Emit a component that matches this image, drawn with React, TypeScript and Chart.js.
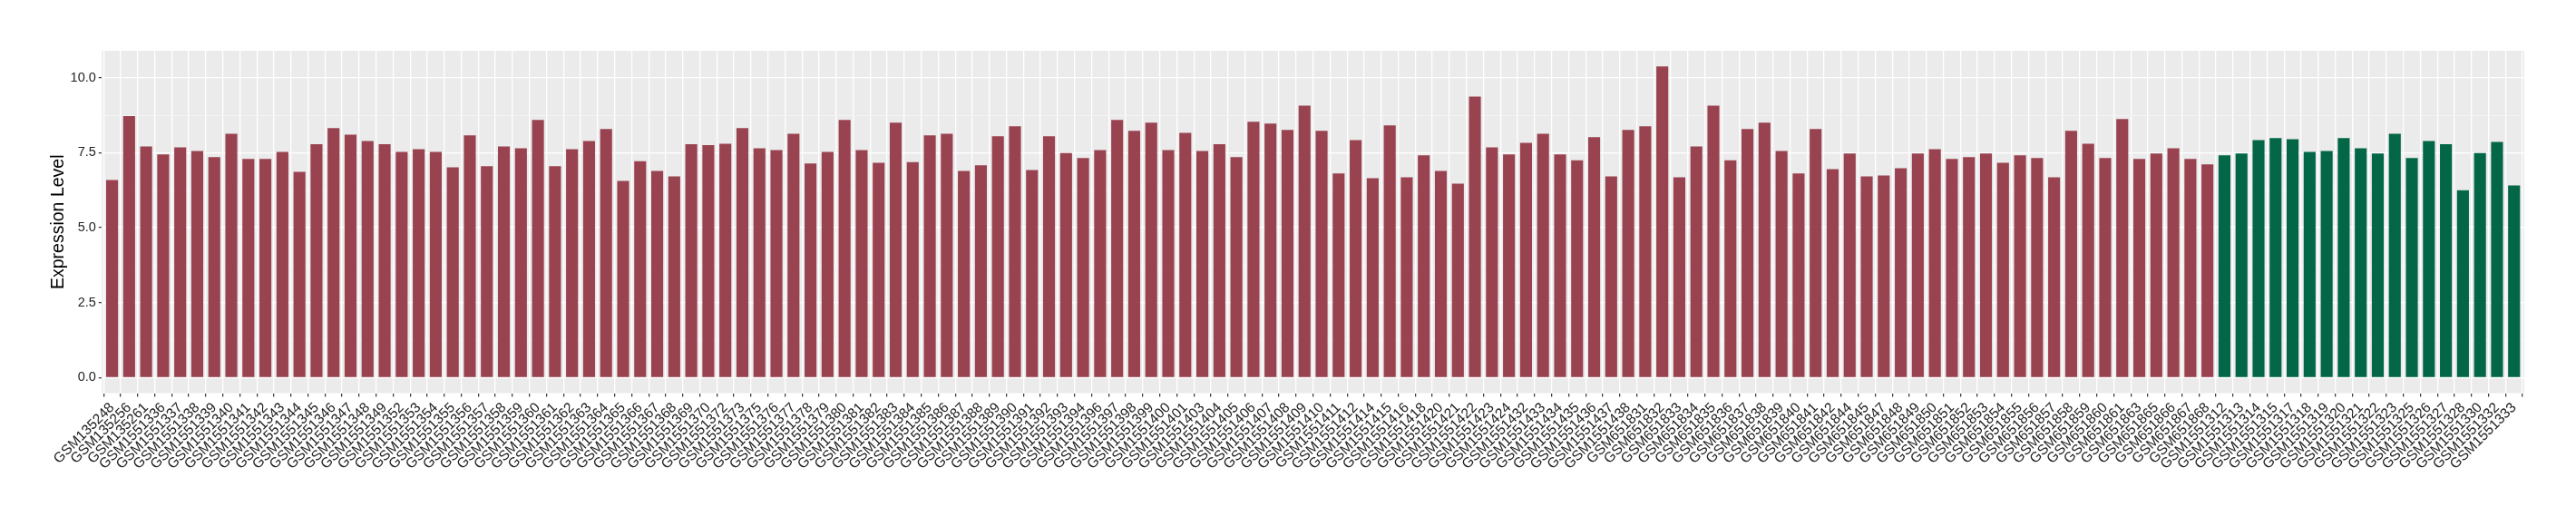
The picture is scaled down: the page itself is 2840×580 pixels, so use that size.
import React, { useEffect, useRef } from "react";
import { Chart, registerables } from "chart.js";

Chart.register(...registerables);

const SAMPLES: string[] = [
  "GSM135248", "GSM135256", "GSM135261", "GSM1551336", "GSM1551337", "GSM1551338", "GSM1551339", "GSM1551340",
  "GSM1551341", "GSM1551342", "GSM1551343", "GSM1551344", "GSM1551345", "GSM1551346", "GSM1551347", "GSM1551348",
  "GSM1551349", "GSM1551352", "GSM1551353", "GSM1551354", "GSM1551355", "GSM1551356", "GSM1551357", "GSM1551358",
  "GSM1551359", "GSM1551360", "GSM1551361", "GSM1551362", "GSM1551363", "GSM1551364", "GSM1551365", "GSM1551366",
  "GSM1551367", "GSM1551368", "GSM1551369", "GSM1551370", "GSM1551372", "GSM1551373", "GSM1551375", "GSM1551376",
  "GSM1551377", "GSM1551378", "GSM1551379", "GSM1551380", "GSM1551381", "GSM1551382", "GSM1551383", "GSM1551384",
  "GSM1551385", "GSM1551386", "GSM1551387", "GSM1551388", "GSM1551389", "GSM1551390", "GSM1551391", "GSM1551392",
  "GSM1551393", "GSM1551394", "GSM1551396", "GSM1551397", "GSM1551398", "GSM1551399", "GSM1551400", "GSM1551401",
  "GSM1551403", "GSM1551404", "GSM1551405", "GSM1551406", "GSM1551407", "GSM1551408", "GSM1551409", "GSM1551410",
  "GSM1551411", "GSM1551412", "GSM1551414", "GSM1551415", "GSM1551416", "GSM1551418", "GSM1551420", "GSM1551421",
  "GSM1551422", "GSM1551423", "GSM1551424", "GSM1551432", "GSM1551433", "GSM1551434", "GSM1551435", "GSM1551436",
  "GSM1551437", "GSM1551438", "GSM651831", "GSM651832", "GSM651833", "GSM651834", "GSM651835", "GSM651836",
  "GSM651837", "GSM651838", "GSM651839", "GSM651840", "GSM651841", "GSM651842", "GSM651844", "GSM651845",
  "GSM651847", "GSM651848", "GSM651849", "GSM651850", "GSM651851", "GSM651852", "GSM651853", "GSM651854",
  "GSM651855", "GSM651856", "GSM651857", "GSM651858", "GSM651859", "GSM651860", "GSM651861", "GSM651863",
  "GSM651865", "GSM651866", "GSM651867", "GSM651868",
  "GSM1551312", "GSM1551313", "GSM1551314", "GSM1551315", "GSM1551317", "GSM1551318", "GSM1551319", "GSM1551320",
  "GSM1551321", "GSM1551322", "GSM1551323", "GSM1551325", "GSM1551326", "GSM1551327", "GSM1551328", "GSM1551330",
  "GSM1551332", "GSM1551333",
];

const EXPRESSION: number[] = [
  6.59, 8.72, 7.71, 7.44, 7.68, 7.56, 7.35, 8.13,
  7.29, 7.29, 7.53, 6.86, 7.78, 8.32, 8.10, 7.89,
  7.78, 7.53, 7.62, 7.53, 7.01, 8.08, 7.05, 7.71,
  7.65, 8.59, 7.05, 7.62, 7.89, 8.29, 6.56, 7.22,
  6.89, 6.71, 7.78, 7.75, 7.80, 8.32, 7.65, 7.59,
  8.13, 7.14, 7.53, 8.59, 7.59, 7.16, 8.50, 7.19,
  8.08, 8.13, 6.89, 7.08, 8.05, 8.38, 6.92, 8.05,
  7.49, 7.32, 7.59, 8.59, 8.23, 8.50, 7.59, 8.16,
  7.56, 7.78, 7.35, 8.53, 8.47, 8.26, 9.07, 8.23,
  6.81, 7.92, 6.65, 8.41, 6.68, 7.41, 6.89, 6.47,
  9.37, 7.68, 7.44, 7.83, 8.13, 7.44, 7.25, 8.02,
  6.71, 8.26, 8.38, 10.38, 6.68, 7.71, 9.07, 7.25,
  8.29, 8.50, 7.56, 6.81, 8.29, 6.95, 7.47, 6.71,
  6.74, 6.98, 7.47, 7.62, 7.29, 7.35, 7.47, 7.16,
  7.41, 7.32, 6.68, 8.23, 7.80, 7.32, 8.62, 7.29,
  7.47, 7.65, 7.29, 7.11,
  7.41, 7.47, 7.92, 7.99, 7.95, 7.53, 7.56, 7.99,
  7.65, 7.47, 8.13, 7.32, 7.89, 7.78, 6.25, 7.49,
  7.86, 6.41,
];

// number of leading samples belonging to the first (red) group
const GROUP_A_COUNT = 124;
const GROUP_COLORS: string[] = ["#9A4350", "#036747"];

const Y_MAJOR_TICKS: number[] = [0, 2.5, 5, 7.5, 10];
const Y_MINOR_TICKS: number[] = [1.25, 3.75, 6.25, 8.75];

const FONT_FAMILY = "'Liberation Sans', Arial, Helvetica, sans-serif";

export default function App() {
  const canvasRef = useRef<HTMLCanvasElement | null>(null);

  useEffect(() => {
    document.body.style.margin = "0";
    const canvas = canvasRef.current;
    if (!canvas) return;

    const points = EXPRESSION.map((v, i) => ({ x: i, y: v }));
    const colors = EXPRESSION.map((_, i) => (i < GROUP_A_COUNT ? GROUP_COLORS[0] : GROUP_COLORS[1]));
    const n = SAMPLES.length;
    const yMax = Math.max(...EXPRESSION);
    const expand = yMax * 0.05;
    const isMajor = (v: number) => Y_MAJOR_TICKS.some((m) => Math.abs(m - v) < 1e-9);

    const bgPlugin = {
      id: "panelBg",
      beforeDraw(chart: any) {
        const { ctx, chartArea } = chart;
        ctx.save();
        ctx.fillStyle = "#EBEBEB";
        ctx.fillRect(chartArea.left, chartArea.top, chartArea.right - chartArea.left, chartArea.bottom - chartArea.top);
        ctx.restore();
      },
    };

    const chart = new Chart(canvas, {
      type: "bar",
      data: {
        datasets: [
          {
            data: points as any,
            backgroundColor: colors,
            borderWidth: 0,
            barPercentage: 0.7,
            categoryPercentage: 1,
          },
        ],
      },
      options: {
        animation: false,
        responsive: false,
        devicePixelRatio: 1,
        layout: { padding: { top: 56, right: 57, left: 0, bottom: 0 } },
        plugins: {
          legend: { display: false },
          tooltip: { enabled: false },
        },
        scales: {
          x: {
            type: "linear",
            min: -0.6,
            max: n - 1 + 0.6,
            offset: false,
            afterBuildTicks: (scale: any) => {
              scale.ticks = SAMPLES.map((_, i) => ({ value: i }));
            },
            afterFit: (scale: any) => {
              scale.height = 146.5;
            },
            border: { display: false },
            grid: {
              color: "#FFFFFF",
              lineWidth: 1.3,
              drawTicks: true,
              tickLength: 4,
              tickColor: "#333333",
              tickWidth: 1.2,
            },
            ticks: {
              autoSkip: false,
              maxRotation: 45,
              minRotation: 45,
              padding: 3,
              color: "#222222",
              font: { family: FONT_FAMILY, size: 15.5 },
              callback: (v: any) => SAMPLES[Math.round(Number(v))] ?? "",
            },
          },
          y: {
            type: "linear",
            min: -expand,
            max: yMax + expand,
            afterBuildTicks: (scale: any) => {
              const all = [...Y_MAJOR_TICKS, ...Y_MINOR_TICKS].sort((a, b) => a - b);
              scale.ticks = all.map((v) => ({ value: v }));
            },
            afterFit: (scale: any) => {
              scale.width = 112.3;
            },
            border: { display: false },
            grid: {
              color: (ctx: any) => (isMajor(ctx.tick?.value) ? "#FFFFFF" : "#F6F6F6"),
              lineWidth: (ctx: any) => (isMajor(ctx.tick?.value) ? 1.3 : 0.8),
              drawTicks: true,
              tickLength: 3.5,
              tickColor: (ctx: any) => (isMajor(ctx.tick?.value) ? "#333333" : "rgba(0,0,0,0)"),
              tickWidth: 1.2,
            },
            ticks: {
              padding: 3,
              color: "#222222",
              font: { family: FONT_FAMILY, size: 14.5 },
              callback: (v: any) => (isMajor(Number(v)) ? Number(v).toFixed(1) : ""),
            },
            title: {
              display: true,
              text: "Expression Level",
              color: "#000000",
              font: { family: FONT_FAMILY, size: 19.5 },
              padding: { top: 53, bottom: 0 },
            },
          },
        },
      },
      plugins: [bgPlugin],
    } as any);

    return () => {
      chart.destroy();
    };
  }, []);

  return (
    <div style={{ position: "absolute", left: 0, top: 0, width: 2840, height: 580, background: "#FFFFFF" }}>
      <canvas ref={canvasRef} width={2840} height={580} style={{ display: "block", width: 2840, height: 580 }} />
    </div>
  );
}
